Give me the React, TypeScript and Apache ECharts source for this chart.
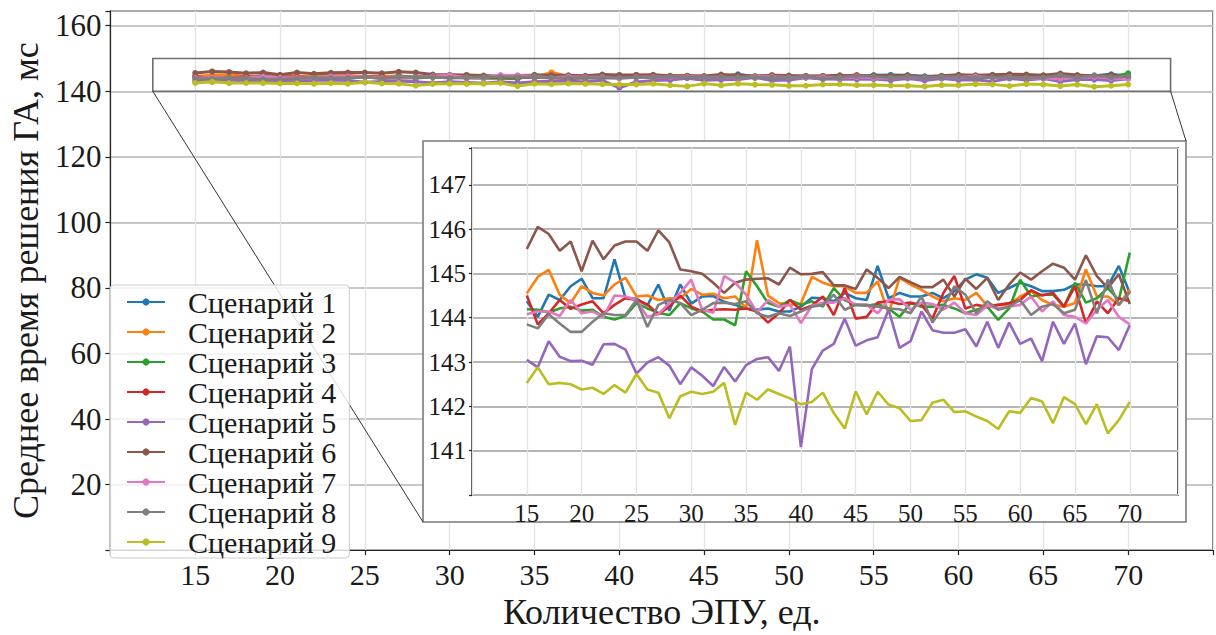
import React, { useEffect, useRef } from 'react';
import * as echarts from 'echarts';

const xValues = [15, 16, 17, 18, 19, 20, 21, 22, 23, 24, 25, 26, 27, 28, 29, 30, 31, 32, 33, 34, 35, 36, 37, 38, 39, 40, 41, 42, 43, 44, 45, 46, 47, 48, 49, 50, 51, 52, 53, 54, 55, 56, 57, 58, 59, 60, 61, 62, 63, 64, 65, 66, 67, 68, 69, 70];

const seriesNames = ['Сценарий 1', 'Сценарий 2', 'Сценарий 3', 'Сценарий 4', 'Сценарий 5', 'Сценарий 6', 'Сценарий 7', 'Сценарий 8', 'Сценарий 9'];
const colors = ['#1f77b4', '#ff7f0e', '#2ca02c', '#d62728', '#9467bd', '#8c564b', '#e377c2', '#7f7f7f', '#bcbd22'];

const s1 = [144.37, 144.02, 144.52, 144.40, 144.71, 144.88, 144.44, 144.44, 145.32, 144.45,
  144.43, 144.28, 144.75, 144.16, 144.75, 144.32, 144.48, 144.49, 144.36, 144.29,
  144.21, 144.18, 144.21, 144.14, 144.14, 144.25, 144.45, 144.44, 144.37, 144.56,
  144.44, 144.40, 145.17, 144.44, 144.56, 144.48, 144.48, 144.56, 144.44, 144.60,
  144.86, 144.98, 144.90, 144.56, 144.67, 144.79, 144.71, 144.60, 144.60, 144.63,
  144.75, 144.75, 144.71, 144.71, 145.17, 144.56];
const s2 = [144.55, 144.92, 145.08, 144.52, 144.33, 144.71, 144.56, 144.50, 144.75, 144.90,
  144.48, 144.50, 144.40, 144.44, 144.44, 144.65, 144.52, 144.54, 144.44, 144.48,
  144.22, 145.75, 144.50, 144.33, 144.29, 144.32, 144.92, 144.79, 144.71, 144.71,
  144.56, 144.56, 144.82, 144.10, 144.90, 144.75, 144.63, 144.48, 144.37, 144.44,
  144.40, 144.56, 144.27, 144.29, 144.29, 144.48, 144.60, 144.40, 144.29, 144.25,
  144.33, 145.09, 144.48, 144.48, 144.29, 144.63];
const s3 = [144.19, 144.18, 144.12, 144.21, 144.25, 144.16, 144.18, 144.02, 143.96, 144.04,
  144.33, 144.21, 144.11, 144.06, 144.33, 144.21, 144.14, 143.96, 143.96, 143.83,
  145.05, 144.71, 144.33, 144.25, 144.40, 144.29, 144.37, 144.25, 144.67, 144.40,
  144.29, 144.27, 144.31, 144.21, 144.02, 144.33, 144.25, 144.25, 144.29, 144.21,
  144.10, 144.18, 144.25, 143.95, 144.21, 144.86, 144.48, 144.52, 144.52, 144.25,
  144.79, 144.34, 144.44, 144.67, 144.40, 145.47];
const s4 = [144.50, 143.85, 144.10, 144.40, 144.20, 144.30, 144.37, 144.10, 144.29, 144.44,
  144.40, 144.30, 144.08, 144.25, 144.50, 144.25, 144.14, 144.18, 144.19, 144.18,
  144.21, 144.14, 143.89, 144.10, 144.40, 144.18, 144.27, 144.48, 144.06, 144.67,
  143.98, 144.02, 144.34, 144.37, 144.31, 144.34, 144.29, 143.98, 144.56, 144.94,
  144.21, 144.29, 144.24, 144.29, 144.33, 144.40, 144.62, 144.50, 144.56, 144.25,
  144.71, 143.87, 144.37, 144.10, 144.44, 144.37];
const s5 = [143.05, 142.88, 143.47, 143.12, 143.02, 143.03, 142.94, 143.40, 143.41, 143.28,
  142.74, 142.99, 143.11, 142.92, 142.50, 142.88, 142.69, 142.46, 142.89, 142.56,
  142.93, 143.07, 143.11, 142.80, 143.35, 141.08, 142.84, 143.26, 143.41, 143.98,
  143.37, 143.49, 143.56, 144.18, 143.32, 143.47, 144.14, 143.72, 143.66, 143.66,
  143.74, 143.35, 143.91, 143.32, 143.89, 143.41, 143.53, 143.02, 143.91, 143.41,
  143.87, 142.95, 143.58, 143.56, 143.27, 143.83];
const s6 = [145.55, 146.05, 145.89, 145.51, 145.72, 145.05, 145.74, 145.32, 145.63, 145.72,
  145.72, 145.51, 145.97, 145.70, 145.09, 145.05, 144.99, 144.79, 144.56, 144.79,
  144.86, 144.88, 144.89, 144.75, 145.13, 144.98, 144.99, 145.03, 144.73, 144.73,
  144.65, 145.09, 144.90, 144.67, 144.92, 144.80, 144.69, 144.69, 144.86, 144.48,
  144.88, 144.65, 144.90, 144.40, 144.75, 145.02, 144.86, 145.05, 145.22, 145.13,
  144.86, 145.41, 144.94, 144.67, 144.98, 144.31];
const s7 = [144.08, 144.14, 144.14, 144.04, 144.40, 144.10, 144.14, 144.02, 144.50, 144.48,
  144.40, 144.02, 144.08, 144.33, 144.56, 144.86, 144.18, 144.11, 144.94, 144.79,
  144.52, 144.12, 144.40, 144.25, 144.29, 143.88, 144.27, 144.34, 144.34, 144.44,
  144.29, 144.29, 144.10, 144.40, 144.42, 144.18, 144.34, 144.31, 144.18, 144.34,
  144.10, 144.06, 144.27, 144.21, 144.25, 144.29, 144.48, 144.14, 144.37, 144.06,
  144.02, 143.87, 144.18, 144.40, 144.02, 143.85];
const s8 = [143.85, 143.76, 144.08, 143.87, 143.68, 143.68, 143.91, 144.10, 144.06, 144.06,
  144.40, 143.79, 144.29, 144.40, 144.33, 144.06, 144.18, 144.33, 144.34, 144.31,
  144.37, 144.10, 144.02, 144.10, 144.04, 144.14, 144.25, 144.29, 144.52, 144.18,
  144.29, 144.29, 144.25, 144.21, 144.19, 144.10, 144.48, 143.89, 144.25, 144.71,
  144.52, 144.10, 144.37, 144.18, 144.25, 144.40, 144.06, 144.25, 144.31, 144.10,
  144.18, 144.85, 144.10, 144.86, 144.29, 144.57];
const s9 = [142.53, 142.88, 142.50, 142.53, 142.50, 142.38, 142.42, 142.28, 142.48, 142.31,
  142.73, 142.38, 142.31, 141.73, 142.23, 142.33, 142.28, 142.33, 142.53, 141.58,
  142.31, 142.15, 142.38, 142.28, 142.18, 142.05, 142.10, 142.31, 141.85, 141.50,
  142.34, 141.82, 142.33, 142.04, 141.96, 141.67, 141.69, 142.08, 142.15, 141.87,
  141.89, 141.77, 141.67, 141.49, 141.89, 141.85, 142.19, 142.11, 141.62, 142.21,
  142.05, 141.60, 142.05, 141.39, 141.69, 142.10];
const allSeries = [s1, s2, s3, s4, s5, s6, s7, s8, s9];

// axis ranges
const mainXRange = [10, 75];
const mainYRange = [0, 164.5];
const insetXRange = [10, 74.4];
const insetYRange = [140, 147.83];
// zoomed region marked on the main plot
const zoomBoxX = [12.5, 72.5];
const zoomBoxY = [140, 150];

const FONT = 'Liberation Serif';
const TXT = '#1a1a1a';

export default function App() {
  const ref = useRef<HTMLDivElement>(null);

  useEffect(() => {
    const chart = echarts.init(ref.current as HTMLDivElement, null, { renderer: 'svg' });

    const mainSeries = allSeries.map((vals, i) => ({
      name: seriesNames[i],
      type: 'line',
      xAxisIndex: 0,
      yAxisIndex: 0,
      data: vals.map((v, j) => [xValues[j], v]),
      symbol: 'circle',
      symbolSize: 6,
      showSymbol: true,
      showAllSymbol: true,
      lineStyle: { width: 3, color: colors[i] },
      itemStyle: { color: colors[i] },
      z: 2,
      silent: true,
      ...(i === 0
        ? {
            markArea: {
              silent: true,
              itemStyle: { color: 'rgba(0,0,0,0)', borderColor: '#6e6e6e', borderWidth: 1.6 },
              data: [[{ coord: [zoomBoxX[0], zoomBoxY[1]] }, { coord: [zoomBoxX[1], zoomBoxY[0]] }]],
            },
            markLine: {
              silent: true,
              symbol: ['none', 'none'],
              label: { show: false },
              lineStyle: { color: '#333', width: 1, type: 'solid' },
              data: [
                [{ coord: [zoomBoxX[0], zoomBoxY[0]] }, { x: 423, y: 522 }],
                [{ coord: [zoomBoxX[1], zoomBoxY[0]] }, { x: 1186, y: 141 }],
              ],
            },
          }
        : {}),
    }));

    const insetSeries = allSeries.map((vals, i) => ({
      name: seriesNames[i],
      type: 'line',
      xAxisIndex: 1,
      yAxisIndex: 1,
      data: vals.map((v, j) => [xValues[j], v]),
      showSymbol: false,
      symbol: 'none',
      lineStyle: { width: 2.6, color: colors[i] },
      itemStyle: { color: colors[i] },
      z: 8,
      silent: true,
    }));

    const option = {
      animation: false,
      backgroundColor: '#fff',
      textStyle: { fontFamily: FONT },
      grid: [
        {
          left: 107, top: 11, width: 1108, height: 545,
          show: true, backgroundColor: 'rgba(0,0,0,0)', borderColor: '#222', borderWidth: 1.2,
          z: 0,
        },
        {
          left: 472, top: 148, width: 706, height: 347,
          show: true, backgroundColor: '#fff', borderColor: '#222', borderWidth: 1.6,
          z: 6,
        },
      ],
      xAxis: [
        {
          type: 'value', gridIndex: 0, min: mainXRange[0], max: mainXRange[1], interval: 5,
          name: 'Количество ЭПУ, ед.', nameLocation: 'middle', nameGap: 34,
          nameTextStyle: { fontFamily: FONT, fontSize: 36, color: TXT },
          axisLine: { show: true, lineStyle: { color: '#222', width: 1.2 } },
          axisTick: { show: true, length: 5, lineStyle: { color: '#222', width: 1.2 } },
          axisLabel: {
            fontFamily: FONT, fontSize: 30, color: TXT, margin: 9,
            formatter: (v: number) => (v >= 15 && v <= 70 && v % 5 === 0 ? String(v) : ''),
          },
          splitLine: { show: true, lineStyle: { color: '#e3e3e3', width: 1.3 } },
        },
        {
          type: 'value', gridIndex: 1, min: insetXRange[0], max: insetXRange[1], interval: 5,
          z: 7,
          axisLine: { show: false },
          axisTick: { show: false },
          axisLabel: {
            fontFamily: FONT, fontSize: 25, color: TXT, margin: 6,
            formatter: (v: number) => (Number.isInteger(v) && v >= 15 && v <= 70 && v % 5 === 0 ? String(v) : ''),
          },
          splitLine: { show: true, lineStyle: { color: '#e3e3e3', width: 1.3 } },
        },
      ],
      yAxis: [
        {
          type: 'value', gridIndex: 0, min: mainYRange[0], max: mainYRange[1], interval: 20,
          name: 'Среднее время решения ГА, мс', nameLocation: 'middle', nameGap: 62,
          nameTextStyle: { fontFamily: FONT, fontSize: 36, color: TXT },
          axisLine: { show: true, lineStyle: { color: '#222', width: 1.2 } },
          axisTick: { show: true, length: 5, lineStyle: { color: '#222', width: 1.2 } },
          axisLabel: {
            fontFamily: FONT, fontSize: 31, color: TXT, margin: 9,
            formatter: (v: number) => (v >= 20 && v <= 160 && v % 20 === 0 ? String(v) : ''),
          },
          splitLine: { show: true, lineStyle: { color: '#b5b5b5', width: 1.5 } },
        },
        {
          type: 'value', gridIndex: 1, min: insetYRange[0], max: insetYRange[1], interval: 1,
          z: 7,
          axisLine: { show: false },
          axisTick: { show: true, length: 3, lineStyle: { color: '#222', width: 1.2 } },
          axisLabel: {
            fontFamily: FONT, fontSize: 25, color: TXT, margin: 6,
            formatter: (v: number) => (Number.isInteger(v) && v >= 141 && v <= 147 ? String(v) : ''),
          },
          splitLine: { show: true, lineStyle: { color: '#b5b5b5', width: 1.8 } },
        },
      ],
      legend: {
        orient: 'vertical',
        left: 110,
        top: 285,
        data: seriesNames,
        itemWidth: 38,
        itemHeight: 9,
        itemGap: 0,
        padding: [2, 13, 1, 16],
        backgroundColor: 'rgba(255,255,255,0.8)',
        borderColor: '#cccccc',
        borderWidth: 1,
        borderRadius: 4,
        selectedMode: false,
        textStyle: { fontFamily: FONT, fontSize: 30, color: TXT, lineHeight: 28, padding: [0, 0, 0, 18] },
        z: 10,
      },
      graphic: {
        elements: [
          {
            type: 'rect',
            z: 5,
            silent: true,
            shape: { x: 423, y: 141, width: 763, height: 381 },
            style: { fill: '#fff', stroke: '#7a7a7a', lineWidth: 1.6 },
          },
        ],
      },
      series: [...mainSeries, ...insetSeries],
    };

    chart.setOption(option as any);
    return () => chart.dispose();
  }, []);

  return (
    <div
      ref={ref}
      style={{ position: 'fixed', left: 0, top: 0, width: 1216, height: 635, background: '#fff' }}
    />
  );
}
